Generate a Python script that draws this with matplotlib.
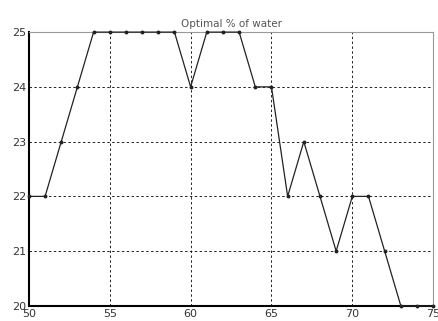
import matplotlib
matplotlib.use("Agg")
import matplotlib.pyplot as plt

# optimal water percentage per step
steps = list(range(50, 76))
water = [22, 22, 23, 24, 25, 25, 25, 25, 25, 25, 24, 25, 25, 25, 24, 24,
         22, 23, 22, 21, 22, 22, 21, 20, 20, 20]
xticks = [50, 55, 60, 65, 70, 75]
yticks = [20, 21, 22, 23, 24, 25]

fig = plt.figure(figsize=(4.38, 3.21), dpi=100)
ax = fig.add_axes([0.066, 0.047, 0.923, 0.853])
ax.plot(steps, water, color='#222222', lw=0.9, marker='o', ms=1.8, clip_on=False, zorder=3)
ax.set_xlim(50, 75)
ax.set_ylim(20, 25)
ax.set_xticks(xticks)
ax.set_yticks(yticks)
ax.grid(True, ls=(0, (2.5, 2.5)), color='#222222', lw=0.7)
ax.tick_params(labelsize=8, length=0, pad=2, colors='#333333')
ax.spines['left'].set_linewidth(1.5)
ax.spines['bottom'].set_linewidth(1.5)
for s in ['top', 'right']:
    ax.spines[s].set_color('#999999')
    ax.spines[s].set_linewidth(0.8)
ax.set_title('Optimal % of water', fontsize=7.5, color='#555555', pad=4)
fig.savefig('out.png', dpi=100)
